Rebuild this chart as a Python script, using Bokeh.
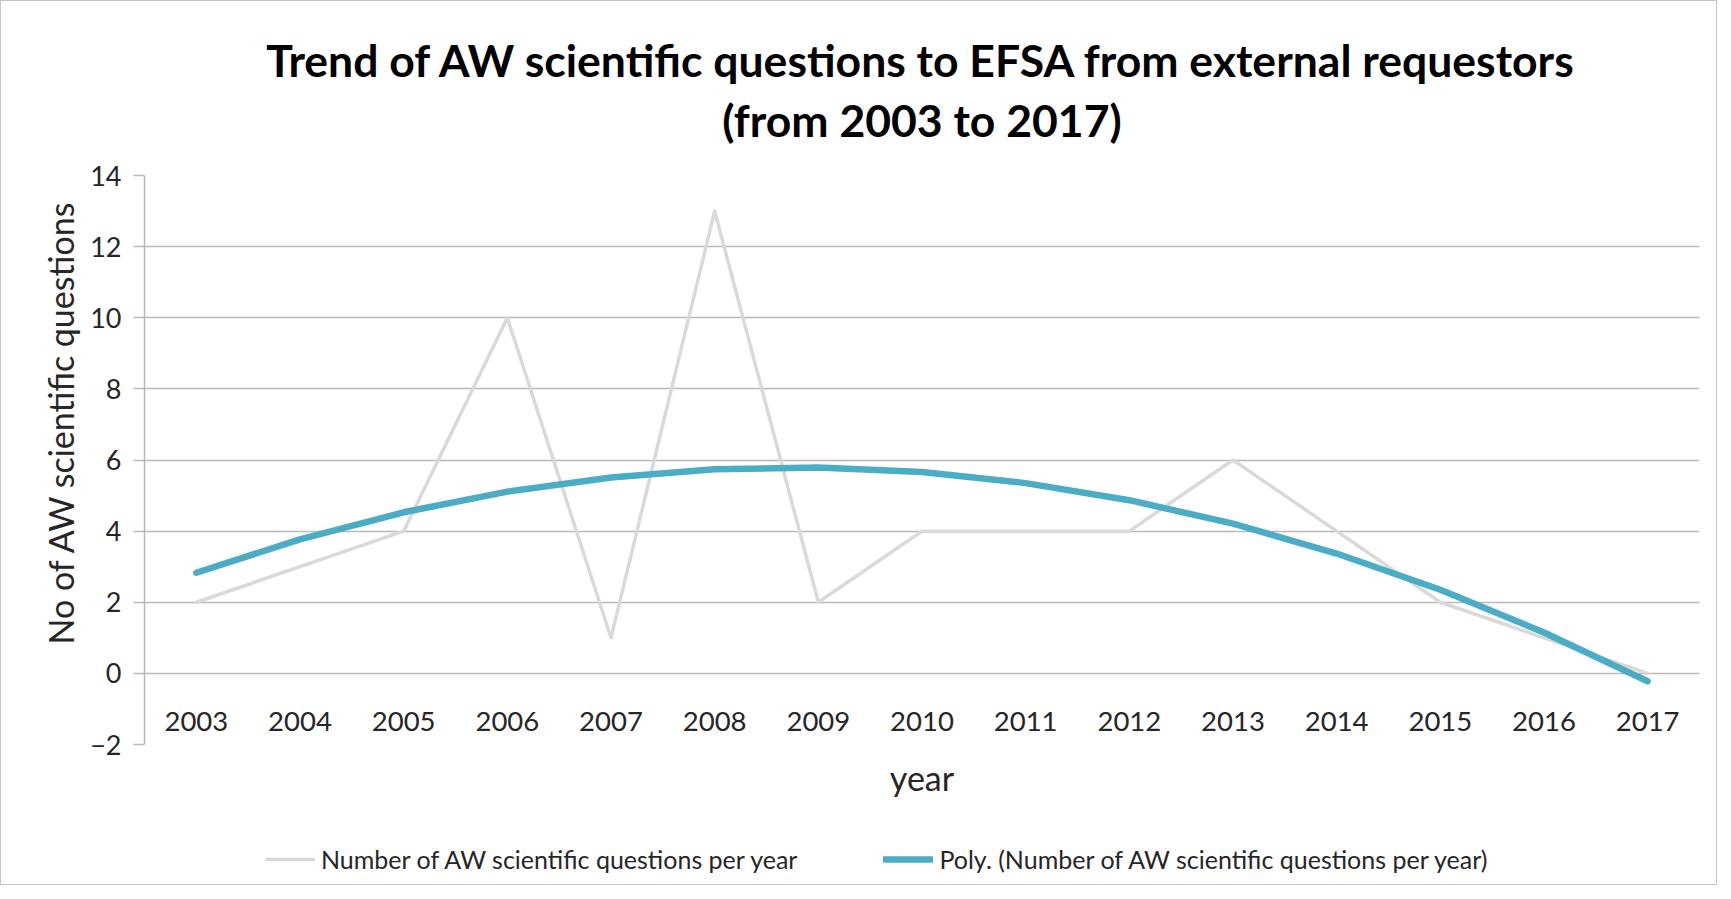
from bokeh.plotting import figure
from bokeh.models import (FactorRange, Range1d, Legend, LegendItem, Title,
                          FixedTicker, ColumnDataSource)
from bokeh.layouts import column
from bokeh.core.properties import value
from bokeh.embed import file_html
from bokeh.resources import INLINE

years = ["2003", "2004", "2005", "2006", "2007", "2008", "2009", "2010",
         "2011", "2012", "2013", "2014", "2015", "2016", "2017"]
questions = [2, 3, 4, 10, 1, 13, 2, 4, 4, 4, 6, 4, 2, 1, 0]
poly_trend = [2.83, 3.77, 4.53, 5.11, 5.51, 5.74, 5.79, 5.66, 5.35, 4.87,
              4.21, 3.37, 2.35, 1.15, -0.22]
y_ticks = [-2, 0, 2, 4, 6, 8, 10, 12, 14]
axis_crossing = 0

title_text = ("Trend of AW scientific questions to EFSA from external requestors\n"
              "(from 2003 to 2017)")
x_title = "year"
y_title = "No of AW scientific questions"
series_name = "Number of AW scientific questions per year"
trend_name = "Poly. (Number of AW scientific questions per year)"

FONT = "Lato"
GRID = "#b9b9b9"
TEXT = "#262626"
SERIES_COLOR = "#d9d9d9"
TREND_COLOR = "#4bacc6"

p = figure(x_range=FactorRange(factors=years), y_range=Range1d(y_ticks[0], y_ticks[-1]),
           width=1715, height=808, output_backend="svg", toolbar_location=None,
           min_border_left=143, min_border_right=17, min_border_top=166,
           min_border_bottom=65)
p.outline_line_color = None
p.background_fill_color = "white"
p.border_fill_color = "white"

# two-line title, lines centred
tt = Title(text=title_text, align="center", text_align="center", text_font=FONT,
           text_font_size="44.5px", text_font_style="bold", text_color="black",
           text_line_height=1.15, standoff=58)
p.add_layout(tt, "above")

# y axis
yax = p.yaxis[0]
yax.ticker = FixedTicker(ticks=y_ticks)
yax.axis_line_color = GRID
yax.axis_line_width = 1.5
yax.major_tick_line_color = GRID
yax.major_tick_line_width = 1.5
yax.major_tick_in = 0
yax.major_tick_out = 11
yax.minor_tick_line_color = None
yax.major_label_text_font = FONT
yax.major_label_text_font_size = "27px"
yax.major_label_text_color = TEXT
yax.major_label_standoff = 12

# y-axis title, placed a little above the middle like the original
yt = Title(text=y_title, align="left", text_font=FONT, text_font_size="34px",
           text_font_style="normal", text_color=TEXT, standoff=14, offset=100)
p.add_layout(yt, "left")

p.ygrid.grid_line_color = GRID
p.ygrid.grid_line_width = 1.5
p.xgrid.visible = False
p.xaxis.visible = False

# year labels along the horizontal axis (which crosses at 0)
lab_src = ColumnDataSource(data=dict(x=years, y=[axis_crossing] * len(years), t=years))
p.text(x="x", y="y", text="t", source=lab_src, text_align="center",
       text_baseline="middle", y_offset=48, text_font=value(FONT),
       text_font_size="27.5px", text_color=TEXT)

r1 = p.line(x=years, y=questions, line_color=SERIES_COLOR, line_width=3.5,
            line_join="round")
r2 = p.line(x=years, y=poly_trend, line_color=TREND_COLOR, line_width=6.5,
            line_cap="round", line_join="round")

# x-axis title
xt = Title(text=x_title, align="center", text_font=FONT, text_font_size="34px",
           text_font_style="normal", text_color=TEXT, standoff=20)
p.add_layout(xt, "below")

# legend strip underneath (same series, drawn outside its visible window)
lg = figure(x_range=FactorRange(factors=years), y_range=Range1d(-100, -99),
            width=1715, height=75, output_backend="svg", toolbar_location=None,
            min_border_left=0, min_border_right=0, min_border_top=0, min_border_bottom=0)
lg.outline_line_color = None
lg.xaxis.visible = False
lg.yaxis.visible = False
lg.xgrid.visible = False
lg.ygrid.visible = False
lg.border_fill_color = "white"
k1 = lg.line(x=years, y=questions, line_color=SERIES_COLOR, line_width=3.5)
k2 = lg.line(x=years, y=poly_trend, line_color=TREND_COLOR, line_width=6.5,
             line_cap="round")
legend = Legend(items=[LegendItem(label=series_name, renderers=[k1]),
                       LegendItem(label=trend_name, renderers=[k2])],
                orientation="horizontal", location=(121, 10),
                label_text_font=FONT, label_text_font_size="25px",
                label_text_color=TEXT, glyph_width=50, glyph_height=20,
                spacing=86, label_standoff=6, border_line_color=None,
                background_fill_alpha=0, margin=0, padding=8)
lg.add_layout(legend, "center")

page = column(p, lg, spacing=0)
page.styles = {"border": "1px solid #c4c4c4", "background-color": "white"}

open("out.html", "w").write(file_html(page, INLINE))
